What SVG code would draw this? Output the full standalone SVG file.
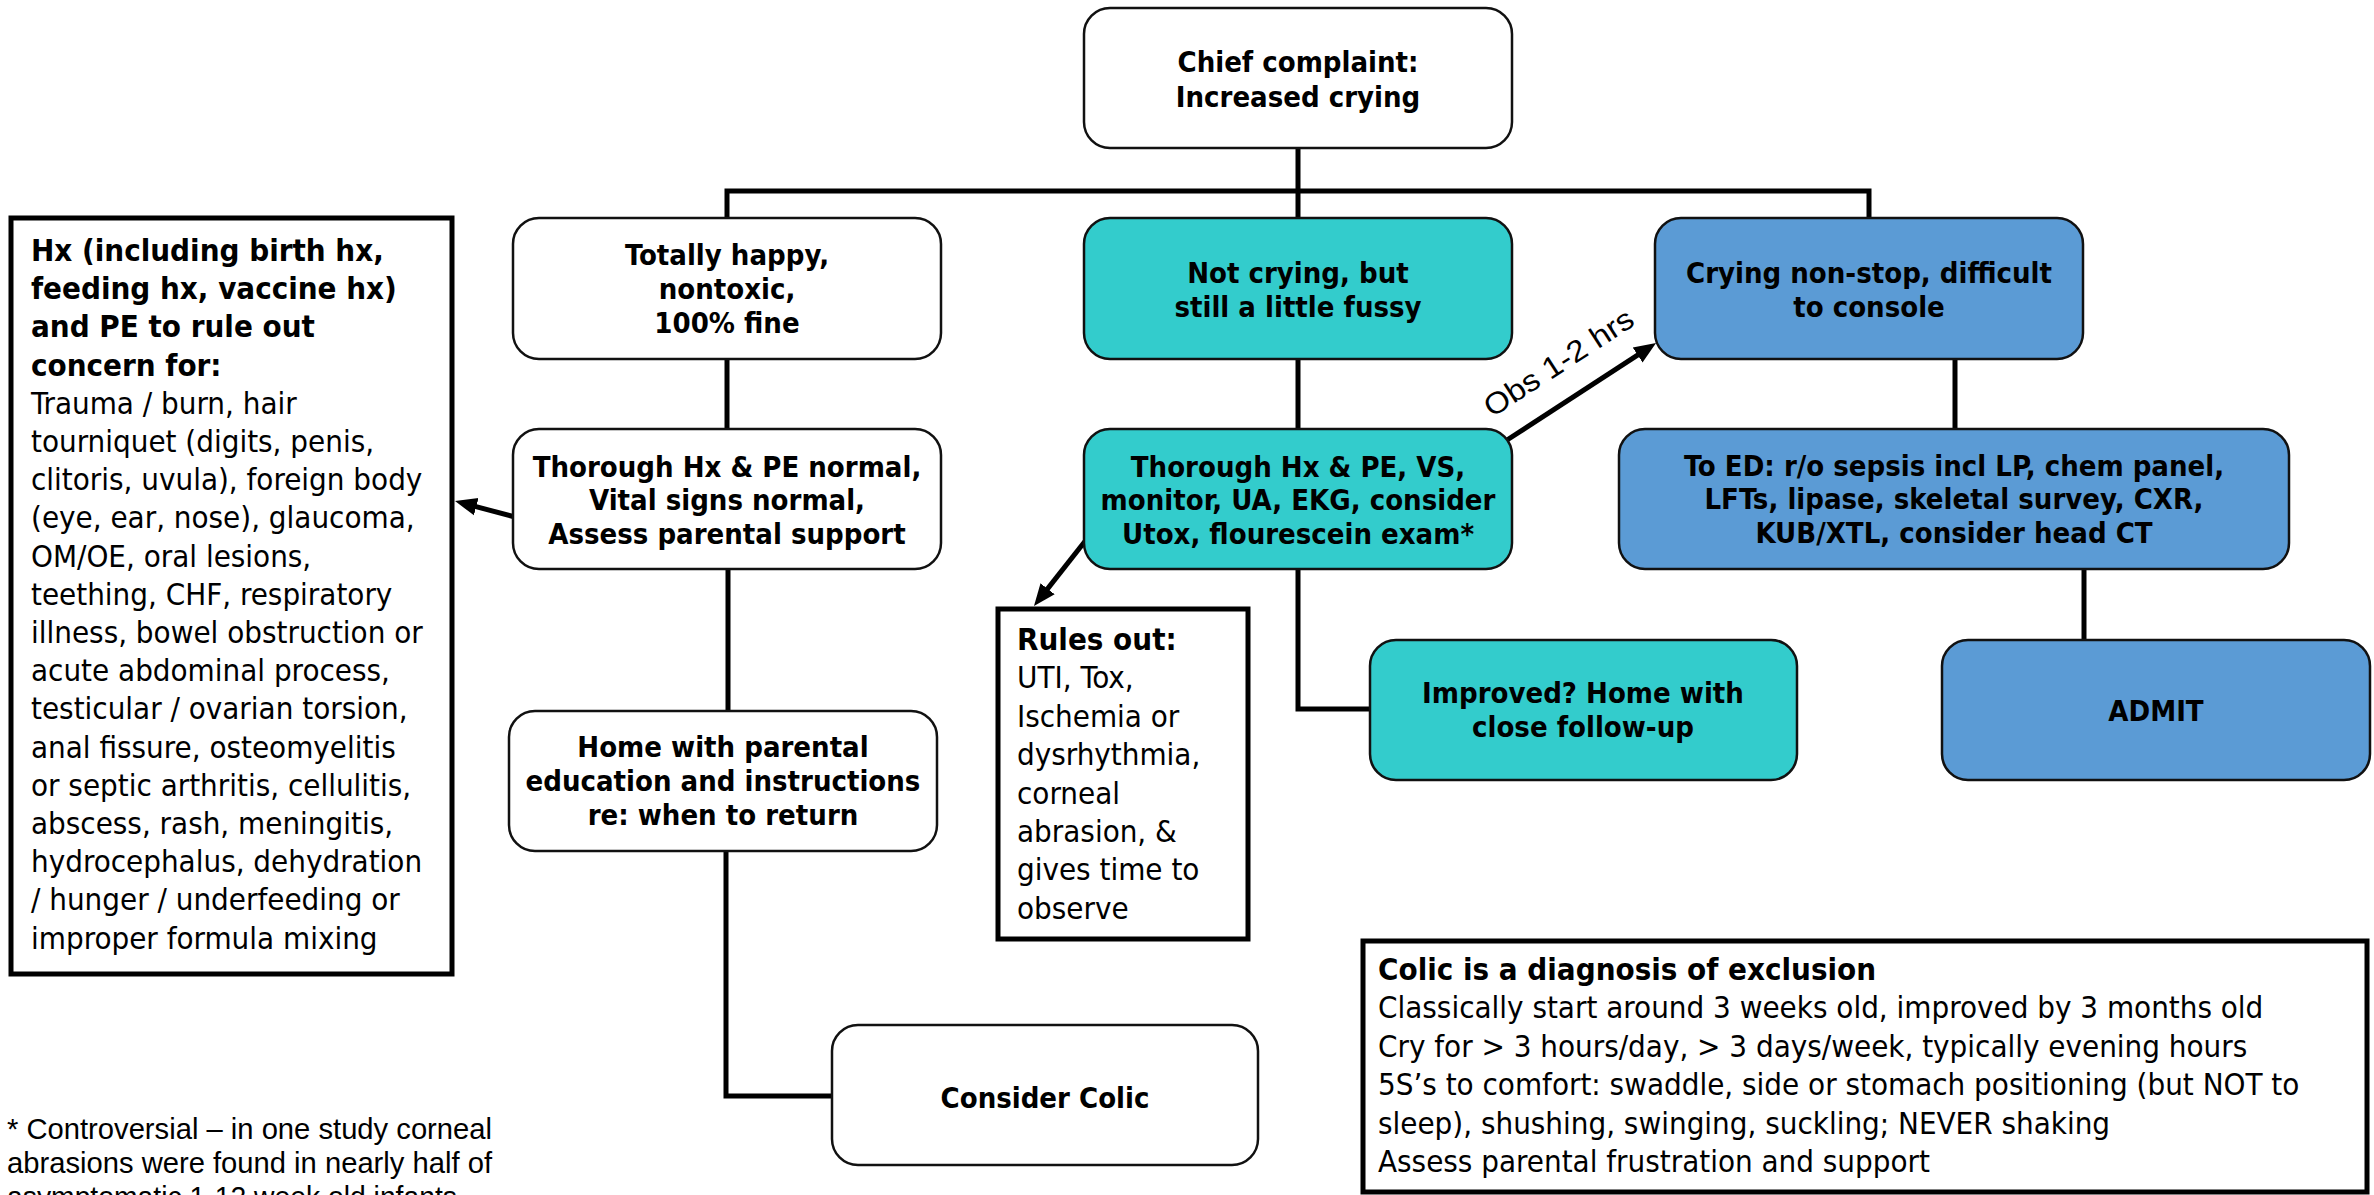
<svg xmlns="http://www.w3.org/2000/svg" width="2374" height="1195" viewBox="0 0 2374 1195">
<style>
.nb{stroke:#111;stroke-width:2.5}
.w{fill:#fff}.t{fill:#33CCCC}.b{fill:#5B9BD5}
.lbl{font-family:'DejaVu Sans Condensed','DejaVu Sans',sans-serif;font-stretch:condensed;font-weight:bold;font-size:29px;text-anchor:middle;fill:#000}
.box{fill:#fff;stroke:#000;stroke-width:5}
.body{font-family:'DejaVu Sans Condensed','DejaVu Sans',sans-serif;font-stretch:condensed;font-size:31px;fill:#000}
.bd{font-weight:bold}
.conn{stroke:#000;stroke-width:5;fill:none}
.cal{font-family:'Liberation Sans',Arial,sans-serif;font-size:30px;fill:#000}
</style>
<defs>
<marker id="ah" markerUnits="userSpaceOnUse" markerWidth="24" markerHeight="20" refX="10" refY="10" orient="auto">
<path d="M0,1 L22,10 L0,19 Z" fill="#000"/>
</marker>
</defs>
<g id="connectors">
<path class="conn" d="M1298,148 V218 M727,218 V191 H1869 V218"/>
<path class="conn" d="M727,359 V429"/>
<path class="conn" d="M1298,359 V429"/>
<path class="conn" d="M1955,359 V429"/>
<path class="conn" d="M728,569 V711"/>
<path class="conn" d="M726,851 V1096 H832"/>
<path class="conn" d="M1298,569 V709 H1370"/>
<path class="conn" d="M2084,569 V640"/>
<path class="conn" d="M515,517 L466.6,504.1" marker-end="url(#ah)"/>
<path class="conn" d="M1086,540 L1041.4,596.6" marker-end="url(#ah)"/>
<path class="conn" d="M1507,440 L1646,349.6" marker-end="url(#ah)"/>
<text class="cal" transform="translate(1492,418) rotate(-33)" textLength="172" lengthAdjust="spacingAndGlyphs">Obs 1-2 hrs</text>
</g>
<g id="chief">
<rect class="nb w" x="1084" y="8" width="428" height="140" rx="26"/>
<text class="lbl"><tspan x="1298" y="72">Chief complaint:</tspan><tspan x="1298" y="107">Increased crying</tspan></text>
</g>
<g id="happy">
<rect class="nb w" x="513" y="218" width="428" height="141" rx="26"/>
<text class="lbl"><tspan x="727" y="265">Totally happy,</tspan><tspan x="727" y="299">nontoxic,</tspan><tspan x="727" y="333">100% fine</tspan></text>
</g>
<g id="fussy">
<rect class="nb t" x="1084" y="218" width="428" height="141" rx="26"/>
<text class="lbl"><tspan x="1298" y="283">Not crying, but</tspan><tspan x="1298" y="317">still a little fussy</tspan></text>
</g>
<g id="nonstop">
<rect class="nb b" x="1655" y="218" width="428" height="141" rx="26"/>
<text class="lbl"><tspan x="1869" y="283">Crying non-stop, difficult</tspan><tspan x="1869" y="317">to console</tspan></text>
</g>
<g id="normal">
<rect class="nb w" x="513" y="429" width="428" height="140" rx="26"/>
<text class="lbl"><tspan x="727" y="477">Thorough Hx &amp; PE normal,</tspan><tspan x="727" y="510">Vital signs normal,</tspan><tspan x="727" y="544">Assess parental support</tspan></text>
</g>
<g id="workup">
<rect class="nb t" x="1084" y="429" width="428" height="140" rx="26"/>
<text class="lbl"><tspan x="1298" y="477">Thorough Hx &amp; PE, VS,</tspan><tspan x="1298" y="510">monitor, UA, EKG, consider</tspan><tspan x="1298" y="544">Utox, flourescein exam*</tspan></text>
</g>
<g id="ed">
<rect class="nb b" x="1619" y="429" width="670" height="140" rx="26"/>
<text class="lbl"><tspan x="1954" y="476">To ED: r/o sepsis incl LP, chem panel,</tspan><tspan x="1954" y="509">LFTs, lipase, skeletal survey, CXR,</tspan><tspan x="1954" y="543">KUB/XTL, consider head CT</tspan></text>
</g>
<g id="home">
<rect class="nb w" x="509" y="711" width="428" height="140" rx="26"/>
<text class="lbl"><tspan x="723" y="757">Home with parental</tspan><tspan x="723" y="791">education and instructions</tspan><tspan x="723" y="825">re: when to return</tspan></text>
</g>
<g id="colic">
<rect class="nb w" x="832" y="1025" width="426" height="140" rx="26"/>
<text class="lbl"><tspan x="1045" y="1108">Consider Colic</tspan></text>
</g>
<g id="improved">
<rect class="nb t" x="1370" y="640" width="427" height="140" rx="26"/>
<text class="lbl"><tspan x="1583" y="703">Improved? Home with</tspan><tspan x="1583" y="737">close follow-up</tspan></text>
</g>
<g id="admit">
<rect class="nb b" x="1942" y="640" width="428" height="140" rx="26"/>
<text class="lbl"><tspan x="2156" y="721">ADMIT</tspan></text>
</g>
<g id="hx">
<rect class="box" x="11" y="218" width="441" height="756"/>
<text class="body">
<tspan class="bd" x="31" y="261">Hx (including birth hx,</tspan>
<tspan class="bd" x="31" y="299">feeding hx, vaccine hx)</tspan>
<tspan class="bd" x="31" y="337">and PE to rule out</tspan>
<tspan class="bd" x="31" y="376">concern for:</tspan>
<tspan x="31" y="414">Trauma / burn, hair</tspan>
<tspan x="31" y="452">tourniquet (digits, penis,</tspan>
<tspan x="31" y="490">clitoris, uvula), foreign body</tspan>
<tspan x="31" y="528">(eye, ear, nose), glaucoma,</tspan>
<tspan x="31" y="567">OM/OE, oral lesions,</tspan>
<tspan x="31" y="605">teething, CHF, respiratory</tspan>
<tspan x="31" y="643">illness, bowel obstruction or</tspan>
<tspan x="31" y="681">acute abdominal process,</tspan>
<tspan x="31" y="719">testicular / ovarian torsion,</tspan>
<tspan x="31" y="758">anal fissure, osteomyelitis</tspan>
<tspan x="31" y="796">or septic arthritis, cellulitis,</tspan>
<tspan x="31" y="834">abscess, rash, meningitis,</tspan>
<tspan x="31" y="872">hydrocephalus, dehydration</tspan>
<tspan x="31" y="910">/ hunger / underfeeding or</tspan>
<tspan x="31" y="949">improper formula mixing</tspan>
</text>
</g>
<g id="rules">
<rect class="box" x="998" y="609" width="250" height="330"/>
<text class="body">
<tspan class="bd" x="1017" y="650">Rules out:</tspan>
<tspan x="1017" y="688">UTI, Tox,</tspan>
<tspan x="1017" y="727">Ischemia or</tspan>
<tspan x="1017" y="765">dysrhythmia,</tspan>
<tspan x="1017" y="804">corneal</tspan>
<tspan x="1017" y="842">abrasion, &amp;</tspan>
<tspan x="1017" y="880">gives time to</tspan>
<tspan x="1017" y="919">observe</tspan>
</text>
</g>
<g id="exclusion">
<rect class="box" x="1363" y="941" width="1004" height="251"/>
<text class="body">
<tspan class="bd" x="1378" y="980">Colic is a diagnosis of exclusion</tspan>
<tspan x="1378" y="1018">Classically start around 3 weeks old, improved by 3 months old</tspan>
<tspan x="1378" y="1057">Cry for &gt; 3 hours/day, &gt; 3 days/week, typically evening hours</tspan>
<tspan x="1378" y="1095">5S’s to comfort: swaddle, side or stomach positioning (but NOT to</tspan>
<tspan x="1378" y="1134">sleep), shushing, swinging, suckling; NEVER shaking</tspan>
<tspan x="1378" y="1172">Assess parental frustration and support</tspan>
</text>
</g>
<g id="footnote">
<text class="cal" x="7" y="1139" textLength="485" lengthAdjust="spacingAndGlyphs">* Controversial – in one study corneal</text>
<text class="cal" x="7" y="1173" textLength="485" lengthAdjust="spacingAndGlyphs">abrasions were found in nearly half of</text>
<text class="cal" x="7" y="1207" textLength="450" lengthAdjust="spacingAndGlyphs">asymptomatic 1-12 week old infants</text>
</g>
</svg>
